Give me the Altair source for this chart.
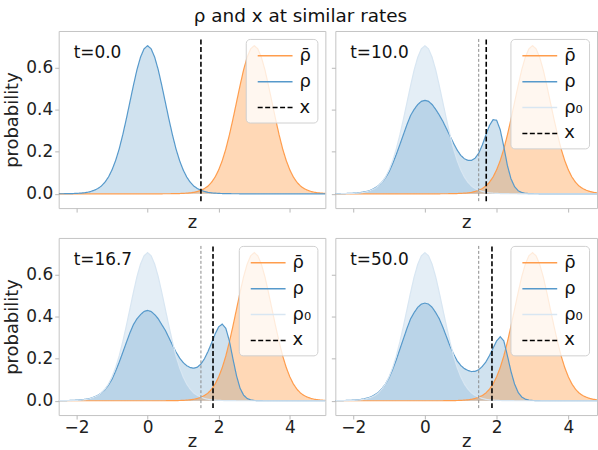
import altair as alt
import pandas as pd

# ---------------- data ----------------
z = [-2.5, -2.4, -2.3, -2.2, -2.1, -2.0, -1.9, -1.8, -1.7, -1.6,
     -1.5, -1.4, -1.3, -1.2, -1.1, -1.0, -0.9, -0.8, -0.7, -0.6,
     -0.5, -0.4, -0.3, -0.2, -0.1, 0.0, 0.1, 0.2, 0.3, 0.4,
     0.5, 0.6, 0.7, 0.8, 0.9, 1.0, 1.1, 1.2, 1.3, 1.4,
     1.5, 1.6, 1.7, 1.8, 1.9, 2.0, 2.1, 2.2, 2.3, 2.4,
     2.5, 2.6, 2.7, 2.8, 2.9, 3.0, 3.1, 3.2, 3.3, 3.4,
     3.5, 3.6, 3.7, 3.8, 3.9, 4.0, 4.1, 4.2, 4.3, 4.4,
     4.5, 4.6, 4.7, 4.8, 4.9, 5.0]

rho0 = [0.0002, 0.0003, 0.0005, 0.0008, 0.0013, 0.002, 0.003, 0.0045, 0.007, 0.011,
        0.017, 0.025, 0.037, 0.055, 0.080, 0.114, 0.158, 0.213, 0.280, 0.355,
        0.435, 0.515, 0.590, 0.650, 0.690, 0.705, 0.690, 0.650, 0.590, 0.515,
        0.435, 0.355, 0.280, 0.213, 0.158, 0.114, 0.080, 0.055, 0.037, 0.025,
        0.017, 0.011, 0.007, 0.0045, 0.003, 0.002, 0.0013, 0.0008, 0.0005, 0.0003,
        0.0002, 0.0001, 0, 0, 0, 0, 0, 0, 0, 0,
        0, 0, 0, 0, 0, 0, 0, 0, 0, 0,
        0, 0, 0, 0, 0, 0]

rhobar = [0, 0, 0, 0, 0, 0, 0, 0, 0, 0,
          0, 0, 0, 0, 0, 0, 0, 0, 0, 0,
          0, 0, 0, 0, 0, 0, 0, 0, 0, 0.0001,
          0.0002, 0.0003, 0.0005, 0.0008, 0.0013, 0.002, 0.003, 0.0045, 0.007, 0.011,
          0.017, 0.025, 0.037, 0.055, 0.080, 0.114, 0.158, 0.213, 0.280, 0.355,
          0.435, 0.515, 0.590, 0.650, 0.690, 0.705, 0.690, 0.650, 0.590, 0.515,
          0.435, 0.355, 0.280, 0.213, 0.158, 0.114, 0.080, 0.055, 0.037, 0.025,
          0.017, 0.011, 0.007, 0.0045, 0.003, 0.002]

rho_t10 = [0.0005, 0.0007, 0.001, 0.0014, 0.002, 0.003, 0.004, 0.006, 0.009, 0.012,
           0.018, 0.027, 0.038, 0.055, 0.077, 0.105, 0.144, 0.187, 0.234, 0.282,
           0.33, 0.373, 0.402, 0.425, 0.44, 0.445, 0.44, 0.425, 0.402, 0.375,
           0.345, 0.31, 0.275, 0.24, 0.208, 0.183, 0.167, 0.159, 0.159, 0.17,
           0.193, 0.232, 0.28, 0.325, 0.353, 0.35, 0.305, 0.225, 0.135, 0.072,
           0.034, 0.015, 0.006, 0.0025, 0.001, 0.0005, 0.0002, 0.0001, 0, 0,
           0, 0, 0, 0, 0, 0, 0, 0, 0, 0,
           0, 0, 0, 0, 0, 0]

rho_t16 = [0.0005, 0.0007, 0.001, 0.0014, 0.002, 0.003, 0.004, 0.006, 0.008, 0.012,
           0.018, 0.026, 0.037, 0.053, 0.075, 0.103, 0.141, 0.183, 0.229, 0.276,
           0.322, 0.362, 0.39, 0.41, 0.425, 0.43, 0.425, 0.41, 0.39, 0.362,
           0.335, 0.3, 0.265, 0.232, 0.204, 0.182, 0.167, 0.158, 0.155, 0.16,
           0.175, 0.2, 0.235, 0.275, 0.318, 0.352, 0.365, 0.345, 0.285, 0.2,
           0.12, 0.06, 0.027, 0.011, 0.004, 0.0015, 0.0007, 0.0003, 0, 0,
           0, 0, 0, 0, 0, 0, 0, 0, 0, 0,
           0, 0, 0, 0, 0, 0]

rho_t50 = [0.0005, 0.0007, 0.001, 0.0015, 0.002, 0.003, 0.004, 0.006, 0.009, 0.013,
           0.019, 0.028, 0.04, 0.057, 0.08, 0.11, 0.15, 0.195, 0.245, 0.295,
           0.345, 0.39, 0.42, 0.445, 0.46, 0.465, 0.46, 0.445, 0.42, 0.39,
           0.35, 0.305, 0.26, 0.222, 0.19, 0.168, 0.153, 0.144, 0.139, 0.14,
           0.148, 0.163, 0.185, 0.215, 0.25, 0.285, 0.305, 0.285, 0.215, 0.14,
           0.08, 0.04, 0.018, 0.008, 0.003, 0.0015, 0.0007, 0.0003, 0, 0,
           0, 0, 0, 0, 0, 0, 0, 0, 0, 0,
           0, 0, 0, 0, 0, 0]

panel_labels = ["t=0.0", "t=10.0", "t=16.7", "t=50.0"]
x_now = [1.5, 1.71, 1.84, 1.87]
x_start = 1.5
series_names = ["ρ̄", "ρ", "ρ₀", "x"]
y_ticks = [0.0, 0.2, 0.4, 0.6]
z_ticks = [-2, 0, 2, 4]
y_domain = [-0.068, 0.775]
vline_span = [-0.035, 0.74]
title_text = "ρ and x at similar rates"

# ---------------- styling ----------------
FONT = "DejaVu Sans"
ORANGE = "#ff7f0e"
BLUE = "#1f77b4"
LINE_COLORS = ["#ff9d4d", "#5699cb", "#d8e6f2", "#000000"]
DASHES = [[1, 0], [1, 0], [1, 0], [5, 2.5]]
LEGEND_SYMBOL = "M-0.5,0H3.0"


def make_panel(idx, rho_vals, col, row):
    with_rho0 = idx > 0
    left = col == 0
    bottom = row == 1
    width = 268 if left else 263
    xdom = [-2.5, 5.0] if left else [-2.5, 4.8]

    recs = []
    for zi, a, b, c in zip(z, rho_vals, rho0, rhobar):
        recs.append({"z": zi, "value": c, "series": "ρ̄"})
        recs.append({"z": zi, "value": a, "series": "ρ"})
        if with_rho0:
            recs.append({"z": zi, "value": b, "series": "ρ₀"})
    df = pd.DataFrame(recs)

    names = series_names if with_rho0 else [series_names[0], series_names[1], series_names[3]]
    cols = LINE_COLORS if with_rho0 else [LINE_COLORS[0], LINE_COLORS[1], LINE_COLORS[3]]
    dashes = DASHES if with_rho0 else [DASHES[0], DASHES[1], DASHES[3]]

    xenc = alt.X(
        "z:Q",
        scale=alt.Scale(domain=xdom, nice=False, zero=False),
        axis=alt.Axis(values=z_ticks, labels=bottom, title="z", tickSize=4,
                      labelPadding=1, titlePadding=1 if not bottom else -3),
    )
    yaxis_kwargs = dict(values=y_ticks, format=".1f", labels=left, tickSize=4, labelPadding=2)
    yaxis = alt.Axis(title="probability", titlePadding=4, **yaxis_kwargs) if left else alt.Axis(title=None, **yaxis_kwargs)
    yenc = alt.Y("value:Q", scale=alt.Scale(domain=y_domain, nice=False, zero=False), axis=yaxis)

    base = alt.Chart(df)
    layers = []
    if with_rho0:
        layers.append(base.transform_filter(alt.datum.series == "ρ₀")
                      .mark_area(color=BLUE, opacity=0.12, clip=True)
                      .encode(x=xenc, y=yenc))
    layers.append(base.transform_filter(alt.datum.series == "ρ")
                  .mark_area(color=BLUE, opacity=0.21, clip=True)
                  .encode(x=xenc, y=yenc))
    layers.append(base.transform_filter(alt.datum.series == "ρ̄")
                  .mark_area(color=ORANGE, opacity=0.3, clip=True)
                  .encode(x=xenc, y=yenc))

    leg = alt.Legend(title=None, orient="top-right", symbolType=LEGEND_SYMBOL)
    color_enc = alt.Color("series:N", scale=alt.Scale(domain=names, range=cols), legend=leg)
    dash_enc = alt.StrokeDash("series:N", scale=alt.Scale(domain=names, range=dashes), legend=leg)

    layers.append(base.mark_line(strokeWidth=1.2, clip=True)
                  .encode(x=xenc, y=yenc, color=color_enc, strokeDash=dash_enc))

    if with_rho0:
        grey_df = pd.DataFrame({"z": [x_start], "y0": [vline_span[0]], "y1": [vline_span[1]]})
        layers.append(alt.Chart(grey_df)
                      .mark_rule(color="#8a8a8a", strokeDash=[3, 2], strokeWidth=1)
                      .encode(x="z:Q", y="y0:Q", y2="y1:Q"))

    rule_df = pd.DataFrame({"z": [x_now[idx]], "y0": [vline_span[0]], "y1": [vline_span[1]],
                            "series": ["x"]})
    layers.append(alt.Chart(rule_df)
                  .mark_rule(strokeWidth=1.6)
                  .encode(x="z:Q", y="y0:Q", y2="y1:Q", color=color_enc, strokeDash=dash_enc))

    label_df = pd.DataFrame({"label": [panel_labels[idx]]})
    layers.append(alt.Chart(label_df)
                  .mark_text(align="left", baseline="alphabetic", fontSize=17, font=FONT, color="#111")
                  .encode(text="label:N", x=alt.value(15), y=alt.value(27)))

    return alt.layer(*layers).properties(width=width, height=178)


p0 = make_panel(0, rho0, 0, 0)
p1 = make_panel(1, rho_t10, 1, 0)
p2 = make_panel(2, rho_t16, 0, 1)
p3 = make_panel(3, rho_t50, 1, 1)

res = dict(x="independent", y="independent", color="independent", strokeDash="independent")
top = alt.hconcat(p0, p1, spacing=4).resolve_scale(**res).resolve_legend(color="independent", strokeDash="independent")
bot = alt.hconcat(p2, p3, spacing=4).resolve_scale(**res).resolve_legend(color="independent", strokeDash="independent")

chart = (
    alt.vconcat(top, bot, spacing=5)
    .resolve_scale(**res)
    .resolve_legend(color="independent", strokeDash="independent")
    .properties(
        title=alt.TitleParams(title_text, fontSize=18.5, font=FONT, fontWeight="normal",
                              anchor="middle", offset=5, color="#111"),
        padding={"left": 3, "top": 6, "right": 0, "bottom": 0},
    )
    .configure_view(stroke="#c4c4c4", strokeWidth=1)
    .configure_axis(domain=False, grid=False, tickColor="#b8b8b8", tickWidth=1,
                    labelFont=FONT, labelFontSize=17, labelColor="#222",
                    titleFont=FONT, titleFontSize=18, titleFontWeight="normal", titleColor="#222")
    .configure_legend(labelFont=FONT, labelFontSize=18, labelColor="#111",
                      symbolStrokeWidth=1.5, symbolSize=400, labelOffset=26,
                      padding=6, rowPadding=6, offset=8, cornerRadius=4,
                      fillColor="rgba(255,255,255,0.8)", strokeColor="#d0d0d0")
)

chart.save("out.html", embed_options={"renderer": "svg", "actions": False})
